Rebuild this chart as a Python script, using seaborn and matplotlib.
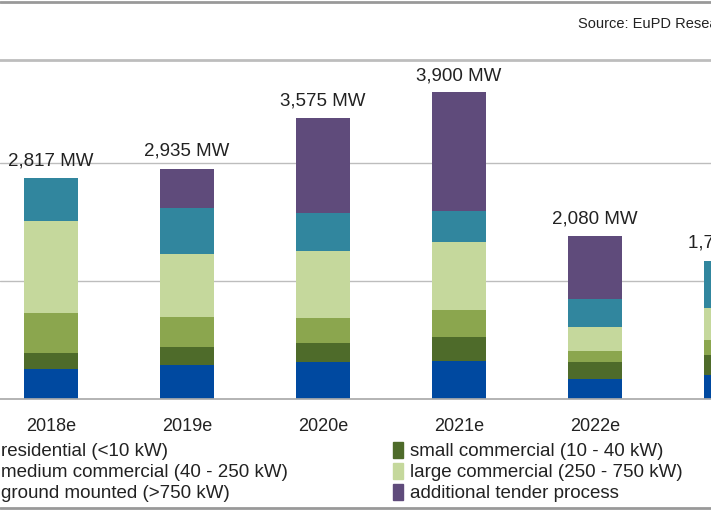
import matplotlib
matplotlib.use("Agg")
import matplotlib.pyplot as plt
import seaborn as sns
import numpy as np
import pandas as pd
from matplotlib.lines import Line2D
from matplotlib.patches import Patch

sns.set_theme(style="white")
plt.rcParams['font.family'] = ['Liberation Sans', 'DejaVu Sans']

years = ["2018e", "2019e", "2020e", "2021e", "2022e", "2023e"]
totals = ["2,817 MW", "2,935 MW", "3,575 MW", "3,900 MW", "2,080 MW", "1,770 MW"]
total_vals = [2817, 2935, 3575, 3900, 2080, 1770]
segments = ["residential (<10 kW)", "small commercial (10 - 40 kW)", "medium commercial (40 - 250 kW)",
            "large commercial (250 - 750 kW)", "ground mounted (>750 kW)", "additional tender process"]
residential = [382, 433, 471, 484, 255, 306]
small_comm = [204, 229, 242, 306, 217, 255]
medium_comm = [510, 382, 318, 344, 140, 191]
large_comm = [1172, 803, 854, 866, 306, 408]
ground = [548, 586, 484, 395, 357, 599]
tender = [0, 497, 1210, 1516, 803, 0]
colors = ["#0049A0", "#4E6B2A", "#8BA64E", "#C5D89C", "#31869E", "#5F4B7B"]

data = [residential, small_comm, medium_comm, large_comm, ground, tender]
fig = plt.figure(figsize=(7.11, 5.12), dpi=100)
ax = fig.add_axes([0, (512 - 399) / 512, 1, 339 / 512])
bottom = np.zeros(len(years))
for name, vals, c in zip(segments, data, colors):
    df = pd.DataFrame({"year": years, "v": vals})
    sns.barplot(data=df, x="year", y="v", bottom=bottom, color=c, width=0.4,
                ax=ax, saturation=1, label=name, linewidth=0, edgecolor="none")
    bottom += np.array(vals)
ax.set_xlim(-0.375, 4.853)
ax.set_ylim(0, 4318)
ax.set_yticks([1500, 3000])
ax.yaxis.grid(True, color="#BDBDBD", lw=1)
ax.set_axisbelow(True)
ax.tick_params(axis="y", left=False, labelleft=False)
ax.tick_params(axis="x", bottom=False, labelsize=13, pad=8, colors="#222222")
ax.set_xlabel(""); ax.set_ylabel("")
for s in ["left", "right"]:
    ax.spines[s].set_visible(False)
ax.spines["bottom"].set_color("#AAAAAA")
ax.spines["top"].set_color("#BDBDBD")
ax.spines["top"].set_linewidth(2)
for i, (t, v) in enumerate(zip(totals, total_vals)):
    ax.text(i, v + 110, t, ha="center", va="bottom", fontsize=13.5, color="#222222")
if ax.get_legend():
    ax.get_legend().remove()

fig.text(578 / 711, 1 - 24 / 512, "Source: EuPD Research", fontsize=10.5, va="center", color="#222222")
fig.add_artist(Line2D([0, 1], [1 - 2 / 512, 1 - 2 / 512], color="#999999", lw=2))
fig.add_artist(Line2D([0, 1], [4 / 512, 4 / 512], color="#999999", lw=2))

order = [0, 2, 4, 1, 3, 5]
handles = [Patch(color=colors[k]) for k in order]
labels = [segments[k] for k in order]
fig.legend(handles, labels, ncol=2, loc="upper left", bbox_to_anchor=(-16 / 711, 1 - 442 / 512),
           frameon=False, fontsize=13.5, handlelength=0.55, handleheight=0.9, handletextpad=0.35,
           labelspacing=0.15, columnspacing=5.6, borderpad=0, borderaxespad=0, labelcolor="#222222")
fig.savefig("out.png", dpi=100)
